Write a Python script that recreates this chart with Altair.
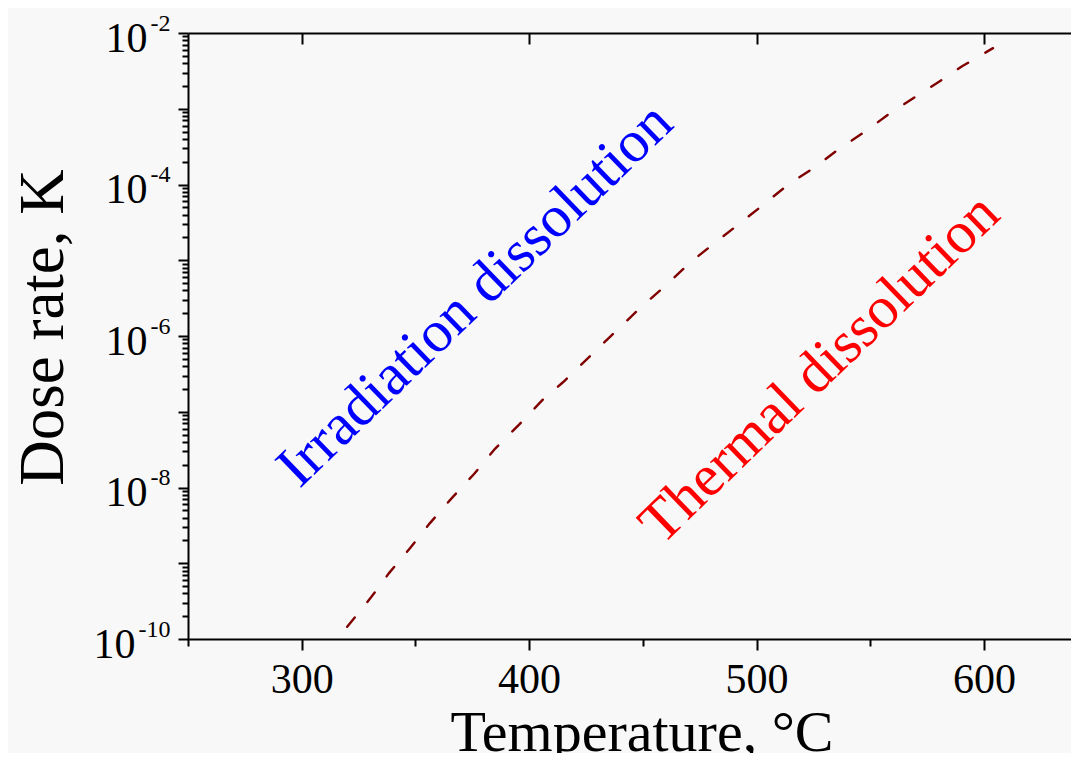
import altair as alt
import pandas as pd

# ---- data ----
temperature = [320, 330.5, 338.4, 347.6, 356.4, 365.7, 375.8, 385.0, 395.6, 406.1, 414.9,
               438.7, 449.2, 460.2, 471.2, 481.7, 493.2, 503.3, 514.3, 525.3, 536.3,
               547.3, 557.8, 568.4, 579.4, 590.4, 604.0]
dose_rate = [1.45e-10, 3.55e-10, 7.41e-10, 1.58e-9, 3.39e-9, 7.08e-9, 1.51e-8, 3.24e-8,
             6.76e-8, 1.45e-7, 2.45e-7, 1.20e-6, 2.40e-6, 4.68e-6, 9.55e-6, 1.70e-5,
             3.16e-5, 5.50e-5, 1.02e-4, 1.66e-4, 2.95e-4, 4.90e-4, 8.32e-4, 1.35e-3,
             2.19e-3, 3.63e-3, 6.31e-3]

label_text = ["Irradiation dissolution", "Thermal dissolution"]
label_temp = [376.2, 527.7]
label_dose = [3.5e-6, 3.7e-7]
label_color = ["#0000ff", "#ff0000"]

x_major = [300, 400, 500, 600]
x_minor = [250, 350, 450, 550, 650]
y_decades = [1e-10, 1e-9, 1e-8, 1e-7, 1e-6, 1e-5, 1e-4, 1e-3, 1e-2]
y_minor = [m * d for d in y_decades[:-1] for m in [2, 3, 4, 5, 6, 7, 8, 9]]
y_long_label = [1e-10]

FONT = "Liberation Serif"
x_scale = alt.Scale(domain=[250, 638.3], nice=False, zero=False)
y_scale = alt.Scale(type="log", domain=[1e-10, 1e-2], nice=False)

df = pd.DataFrame({"T": temperature, "K": dose_rate})
labels_df = pd.DataFrame({"T": label_temp, "K": label_dose, "label": label_text, "color": label_color})

EXP = "round(log(datum.value)/LN10)"
even = f"abs({EXP}) % 2 == 0"

base = alt.Chart(df)

line = base.mark_line(color="#800000", strokeWidth=2.4, strokeDash=[12, 20], strokeCap="round").encode(
    x=alt.X("T:Q", scale=x_scale, axis=alt.Axis(
        orient="bottom", values=x_major, tickSize=11, tickWidth=2, domainWidth=2,
        labelFont=FONT, labelFontSize=42, labelPadding=9, labelFlush=False, labelOverlap=False,
        format="d", grid=False,
        title="Temperature, °C", titleFont=FONT, titleFontSize=58, titleFontWeight="normal",
        titleX=453.5, titleY=111, titleAlign="center", titleBaseline="alphabetic")),
    y=alt.Y("K:Q", scale=y_scale, axis=alt.Axis(
        orient="left", values=y_decades, tickSize=10, tickWidth=2, domainWidth=2,
        labelExpr=f"({even} && {EXP} > -10) ? '10' : ''",
        labelFont=FONT, labelFontSize=42, labelBaseline="middle", labelOffset=5,
        labelPadding=31, labelAlign="right", labelOverlap=False, labelFlush=False, grid=False,
        title="Dose rate, K", titleFont=FONT, titleFontSize=63, titleFontWeight="normal",
        titleAngle=270, titleX=-126, titleY=294, titleAlign="center", titleBaseline="alphabetic")),
)

aux_top_exp = base.mark_line(opacity=0).encode(
    x=alt.X("T:Q", scale=x_scale, axis=alt.Axis(
        orient="top", values=x_major, tickSize=alt.ExprRef(expr="-11"), tickWidth=2,
        domainWidth=2, labels=False, grid=False, title=None)),
    y=alt.Y("K:Q", scale=y_scale, axis=alt.Axis(
        orient="left", values=y_decades, tickSize=10, tickOpacity=0, domain=False,
        labelExpr=f"{even} ? '-' + abs({EXP}) : ''",
        labelFont=FONT, labelFontSize=24, labelBaseline="middle", labelOffset=-10,
        labelPadding=8, labelAlign="right", labelOverlap=False, labelFlush=False,
        grid=False, title=None)),
)

aux_minor = base.mark_line(opacity=0).encode(
    x=alt.X("T:Q", scale=x_scale, axis=alt.Axis(
        orient="bottom", values=x_minor, tickSize=7, tickWidth=2, domain=False,
        labels=False, grid=False, title=None)),
    y=alt.Y("K:Q", scale=y_scale, axis=alt.Axis(
        orient="left", values=y_minor, tickSize=6, tickWidth=2, domain=False,
        labels=False, grid=False, title=None)),
)

aux_long = base.mark_line(opacity=0).encode(
    x=alt.X("T:Q", scale=x_scale, axis=None),
    y=alt.Y("K:Q", scale=y_scale, axis=alt.Axis(
        orient="left", values=y_long_label, tickSize=10, tickOpacity=0, domain=False,
        labelExpr="'10'", labelFont=FONT, labelFontSize=42, labelBaseline="middle",
        labelOffset=5, labelPadding=43, labelAlign="right", labelOverlap=False,
        labelFlush=False, grid=False, title=None)),
)

txt = alt.Chart(labels_df).mark_text(
    font=FONT, fontSize=59, angle=316, align="center", baseline="middle"
).encode(
    x=alt.X("T:Q", scale=x_scale, axis=None),
    y=alt.Y("K:Q", scale=y_scale, axis=None),
    text="label:N",
    color=alt.Color("color:N", scale=None),
)

chart = alt.layer(line, aux_top_exp, aux_minor, aux_long, txt).resolve_axis(
    x="independent", y="independent"
).properties(
    width=883, height=606,
    padding={"left": 180, "top": 25, "right": 0, "bottom": 114},
    autosize=alt.AutoSizeParams(type="none"),
    background="#f8f8f8",
).configure_view(stroke=None).configure_axis(
    domainColor="black", tickColor="black", labelColor="black", titleColor="black"
)

chart.save("out.html", embed_options={"renderer": "svg", "actions": False})
